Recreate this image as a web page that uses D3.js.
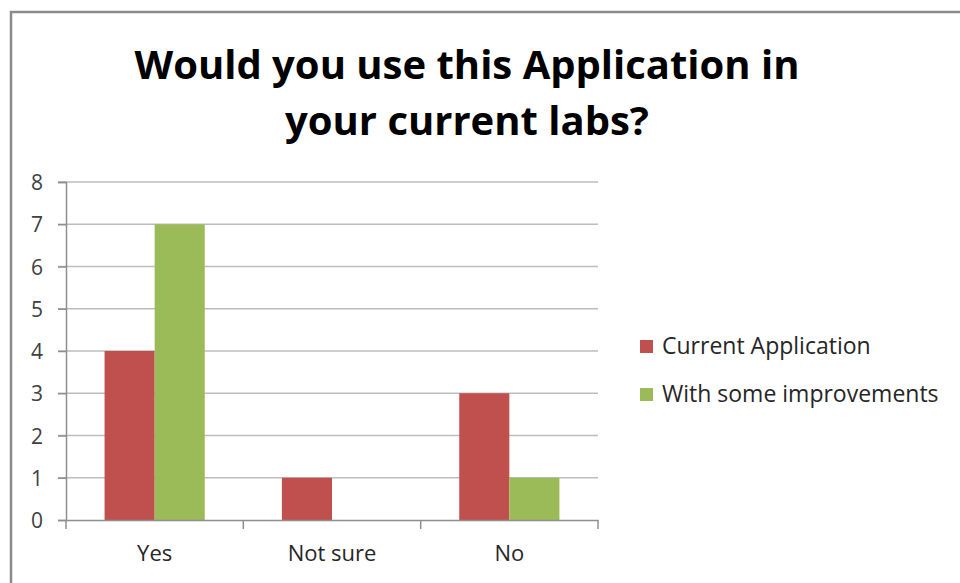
<!DOCTYPE html>
<html><head><meta charset="utf-8">
<script src="https://cdn.jsdelivr.net/npm/d3@7"></script>
<style>body{margin:0;background:#fff}svg{display:block}text{font-family:"Open Sans",sans-serif}</style>
</head><body><svg id="c" width="960" height="583"></svg>
<script>
const categories = ["Yes", "Not sure", "No"];
const seriesNames = ["Current Application", "With some improvements"];
const currentApp = [4, 1, 3];
const withImprovements = [7, 0, 1];
const yTicks = [0, 1, 2, 3, 4, 5, 6, 7, 8];
const titleLines = ["Would you use this Application in", "your current labs?"];
const colors = ["#C0504D", "#9BBB59"];

const svg = d3.select("#c");
// outer frame
svg.append("path").attr("d", "M11,583 V12 H960").attr("fill", "none").attr("stroke", "#8a8a8a").attr("stroke-width", 2.5);

const m = {left: 66, right: 598, top: 182, bottom: 520};
const x = d3.scaleBand().domain(categories).range([m.left, m.right]).paddingInner(0).paddingOuter(0);
const xs = d3.scaleBand().domain(seriesNames).range([0, x.bandwidth()]).paddingInner(0).paddingOuter(0.77);
const y = d3.scaleLinear().domain([0, 8]).range([m.bottom, m.top]);

// title
svg.append("text").attr("text-anchor", "middle").attr("font-weight", 700)
  .attr("font-size", 40).attr("fill", "#000")
  .selectAll("tspan").data(titleLines).join("tspan")
  .attr("x", 467).attr("y", (d, i) => 79 + i * 56).text(d => d);

// gridlines
svg.append("g").selectAll("line").data(yTicks.filter(d => d > 0)).join("line")
  .attr("x1", m.left - 8).attr("x2", m.right).attr("y1", d => y(d)).attr("y2", d => y(d))
  .attr("stroke", "#bdbdbd").attr("stroke-width", 1.5);

// y axis
const yAxis = svg.append("g").attr("transform", `translate(${m.left},0)`)
  .call(d3.axisLeft(y).tickValues(yTicks).tickSize(8).tickPadding(15).tickFormat(d3.format("d")));
yAxis.select(".domain").attr("stroke", "#8f8f8f").attr("stroke-width", 1.5);
yAxis.selectAll(".tick line").attr("stroke", "#8f8f8f").attr("stroke-width", 1.5);
yAxis.selectAll("text").attr("font-size", 21).attr("fill", "#404040").attr("font-family", "Open Sans, sans-serif").attr("dy", "0.36em");

// bars
const data = categories.map((c, i) => ({c, vals: [currentApp[i], withImprovements[i]]}));
const g = svg.append("g");
data.forEach(d => {
  d.vals.forEach((v, j) => {
    g.append("rect").attr("x", x(d.c) + xs(seriesNames[j])).attr("width", xs.bandwidth())
      .attr("y", y(v)).attr("height", y(0) - y(v)).attr("fill", colors[j]);
  });
});

// x axis
const xAxis = svg.append("g").attr("transform", `translate(0,${m.bottom})`)
  .call(d3.axisBottom(x).tickSize(0).tickPadding(25));
xAxis.select(".domain").attr("stroke", "#8f8f8f").attr("stroke-width", 1.5);
xAxis.selectAll("text").attr("font-size", 22).attr("fill", "#262626").attr("font-family", "Open Sans, sans-serif");
const bounds = categories.map(c => x(c)).concat([x(categories[categories.length - 1]) + x.bandwidth()]);
xAxis.selectAll(".btick").data(bounds).join("line").attr("class", "btick")
  .attr("x1", d => d).attr("x2", d => d).attr("y1", 0).attr("y2", 9)
  .attr("stroke", "#8f8f8f").attr("stroke-width", 1.5);

// legend
const leg = svg.append("g").selectAll("g").data(seriesNames).join("g")
  .attr("transform", (d, i) => `translate(640,${340 + i * 48})`);
leg.append("rect").attr("width", 13).attr("height", 13).attr("fill", (d, i) => colors[i]);
leg.append("text").attr("x", 22).attr("y", 14).attr("font-size", 23).attr("fill", "#262626").text(d => d);
</script></body></html>
